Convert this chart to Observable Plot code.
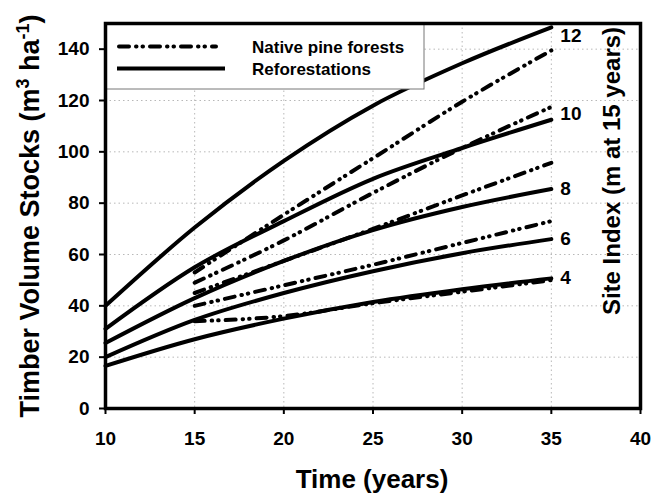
<!DOCTYPE html>
<html><head><meta charset="utf-8">
<script src="https://cdn.jsdelivr.net/npm/d3@7"></script>
<script src="https://cdn.jsdelivr.net/npm/@observablehq/plot@0.6"></script>
<style>
body{margin:0;background:#fff}
#chart{position:relative;width:652px;height:493px}
</style>
</head><body><div id="chart"></div>
<script>
// ---- data ----
const siteIndex = [12, 10, 8, 6, 4];
const refoYears = [10, 15, 20, 25, 30, 35];
const nativeYears = [15, 20, 25, 30, 35];
// Reforestations (solid)
const refo12 = [40, 70.5, 96.5, 118, 134.5, 148.5];
const refo10 = [31, 55, 73, 89.5, 101.5, 112.5];
const refo8  = [25.5, 43, 57.5, 69.5, 78.5, 85.5];
const refo6  = [20, 34.5, 45, 53.5, 60.5, 66];
const refo4  = [16.6, 27, 35, 41.5, 46.5, 50.7];
// Native pine forests (dash-dot-dot)
const native12 = [53, 75.5, 97.5, 119.5, 139.5];
const native10 = [49, 65.5, 84, 101.5, 117.5];
const native8  = [45, 57.5, 70, 83, 95.7];
const native6  = [40, 48, 56, 64.5, 73];
const native4  = [34, 36, 41, 45.5, 50];
const xTicks = [10, 15, 20, 25, 30, 35, 40];
const yTicks = [0, 20, 40, 60, 80, 100, 120, 140];
const legendLabels = ["Native pine forests", "Reforestations"];

// ---- tables ----
const refoSeries = [refo12, refo10, refo8, refo6, refo4];
const nativeSeries = [native12, native10, native8, native6, native4];
const refoRows = siteIndex.flatMap((si, i) => refoYears.map((t, j) => ({si, t, v: refoSeries[i][j]})));
const nativeRows = siteIndex.flatMap((si, i) => nativeYears.map((t, j) => ({si, t, v: nativeSeries[i][j]})));
const endRows = siteIndex.map((si, i) => ({si, t: refoYears[refoYears.length - 1], v: refoSeries[i][refoSeries[i].length - 1]}));

const FONT = "'Liberation Sans', Arial, Helvetica, sans-serif";
const DASH = "10,7,0.5,6,0.5,7";
const labelOpts = {x: "t", y: "v", text: d => String(d.si), dx: 9, textAnchor: "start", fontSize: 19, fontWeight: "bold", fill: "#000"};

const plot = Plot.plot({
  width: 652, height: 493,
  marginLeft: 105, marginRight: 12, marginTop: 23, marginBottom: 85,
  style: {fontFamily: FONT, fontWeight: "bold", fontSize: "19px", background: "#fff", color: "#000"},
  x: {domain: [10, 40]},
  y: {domain: [0, 150]},
  marks: [
    Plot.gridX(xTicks.slice(1, -1), {stroke: "#b8b8b8", strokeOpacity: 1, strokeDasharray: "1.5,3"}),
    Plot.gridY(yTicks.slice(1), {stroke: "#b8b8b8", strokeOpacity: 1, strokeDasharray: "1.5,3"}),
    Plot.line(refoRows, {x: "t", y: "v", z: "si", curve: "monotone-x", stroke: "#000", strokeWidth: 4}),
    Plot.line(nativeRows, {x: "t", y: "v", z: "si", curve: "monotone-x", stroke: "#000", strokeWidth: 4,
      strokeDasharray: DASH, strokeLinecap: "round"}),
    Plot.text(endRows.filter(d => d.si === 12), {...labelOpts, dy: 9}),
    Plot.text(endRows.filter(d => d.si === 10), {...labelOpts, dy: -6}),
    Plot.text(endRows.filter(d => d.si < 10), {...labelOpts, dy: 0}),
    Plot.axisX({ticks: xTicks, tickSize: 6, tickPadding: 17, fontSize: 19, fontWeight: "bold", strokeWidth: 2, label: null}),
    Plot.axisY({ticks: yTicks, tickSize: 6, tickPadding: 10, fontSize: 19, fontWeight: "bold", strokeWidth: 2, label: null}),
    Plot.frame({stroke: "#000", strokeWidth: 3.5})
  ]
});
document.getElementById("chart").appendChild(plot);

// ---- decorations: titles & legend ----
const svg = d3.select(plot);
const ns = "http://www.w3.org/2000/svg";

// legend (inserted beneath the frame)
const frameEl = plot.querySelector('[aria-label="frame"]');
const lg = document.createElementNS(ns, "g");
plot.insertBefore(lg, frameEl);
const L = d3.select(lg).attr("text-anchor", "start");
L.append("rect").attr("x", 105).attr("y", 23).attr("width", 319).attr("height", 66)
  .attr("fill", "#fff").attr("stroke", "#777").attr("stroke-width", 1);
L.append("line").attr("x1", 119).attr("x2", 216).attr("y1", 46.5).attr("y2", 46.5)
  .attr("stroke", "#000").attr("stroke-width", 4).attr("stroke-dasharray", DASH).attr("stroke-linecap", "round");
L.append("line").attr("x1", 117).attr("x2", 225).attr("y1", 68.5).attr("y2", 68.5)
  .attr("stroke", "#000").attr("stroke-width", 4);
L.append("text").attr("x", 252).attr("y", 52.5).text(legendLabels[0])
  .attr("font-size", 17).attr("font-weight", "bold").attr("font-family", FONT);
L.append("text").attr("x", 252).attr("y", 75).text(legendLabels[1])
  .attr("font-size", 17).attr("font-weight", "bold").attr("font-family", FONT);

// x title
svg.append("text").attr("x", 372).attr("y", 488).attr("text-anchor", "middle")
  .attr("font-size", 26).attr("font-weight", "bold").attr("font-family", FONT)
  .text("Time (years)");

// y title with superscripts
const yt = svg.append("text").attr("transform", "translate(39,216) rotate(-90)")
  .attr("text-anchor", "middle").attr("font-size", 27).attr("font-weight", "bold").attr("font-family", FONT);
yt.append("tspan").text("Timber Volume Stocks (m");
yt.append("tspan").attr("font-size", 18).attr("dy", -10).text("3");
yt.append("tspan").attr("dy", 10).text(" ha");
yt.append("tspan").attr("font-size", 18).attr("dy", -10).text("-1");
yt.append("tspan").attr("dy", 10).text(")");

// right title
svg.append("text").attr("transform", "translate(620,171) rotate(-90)")
  .attr("text-anchor", "middle").attr("font-size", 24).attr("font-weight", "bold").attr("font-family", FONT)
  .text("Site Index (m at 15 years)");
</script></body></html>
